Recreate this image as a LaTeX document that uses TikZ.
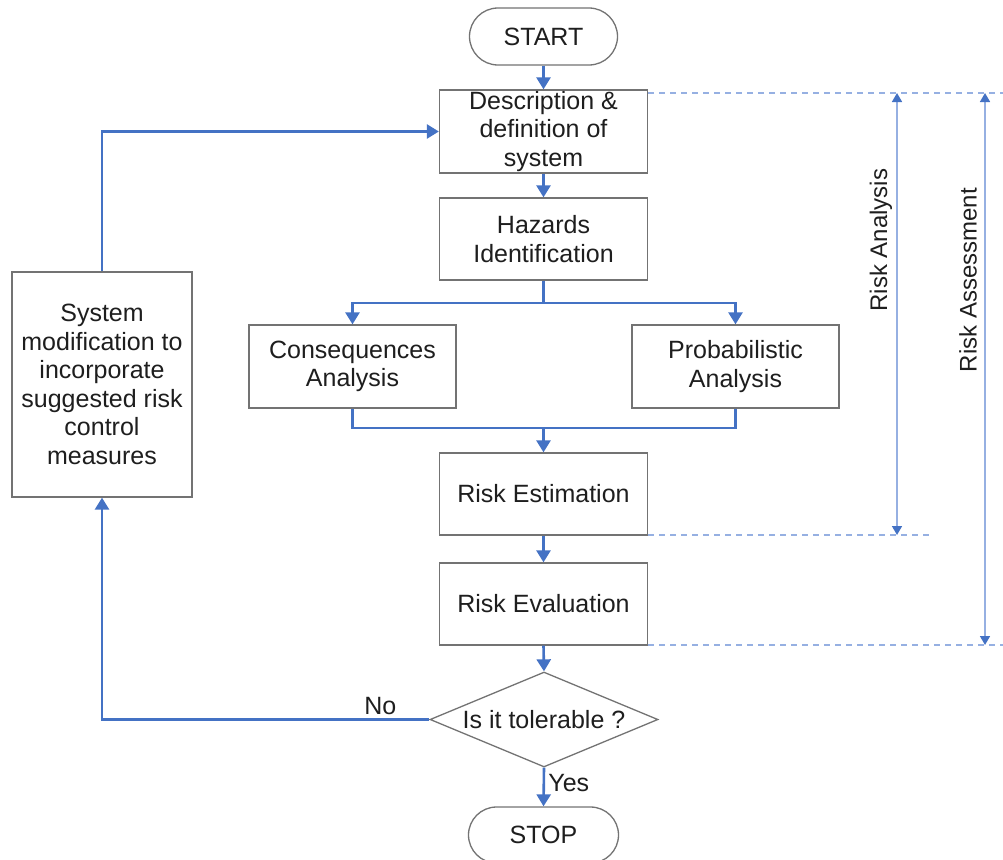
\documentclass[tikz,border=0pt]{standalone}
\usepackage{fontspec}
\setmainfont{Liberation Sans}
\usetikzlibrary{arrows.meta,shapes.geometric,shapes.misc}
\definecolor{flow}{RGB}{68,114,196}
\definecolor{dimline}{RGB}{150,176,226}
\definecolor{boxline}{RGB}{115,115,115}
\definecolor{txt}{RGB}{30,30,30}
\begin{document}
\begin{tikzpicture}[x=1pt,y=-1pt,
  box/.style={draw=boxline, line width=1.3pt, fill=white, text=txt, align=center,
    inner sep=0pt, font=\fontsize{25}{28.5}\selectfont},
  pill/.style={box, rounded rectangle},
  decision/.style={box, diamond, aspect=2.4},
  flowline/.style={draw=flow, line width=2.6pt},
  arr/.style={flowline, -{Triangle[width=14pt,length=12pt]}},
  dimdash/.style={draw=dimline, line width=2.2pt, dash pattern=on 6pt off 5pt},
  dimarr/.style={draw=dimline, line width=1.6pt,
    {Triangle[width=10pt,length=9pt,color=flow]}-{Triangle[width=10pt,length=9pt,color=flow]}},
  lbl/.style={text=txt, font=\fontsize{24}{28}\selectfont},
  edgelbl/.style={text=txt, font=\fontsize{25}{28}\selectfont},
]
\useasboundingbox (0,0) rectangle (1003,859);

% main nodes
\node[pill, minimum width=148pt, minimum height=57pt] (start) at (543.5,36.5) {START};
\node[box, minimum width=208pt, minimum height=83pt] (desc) at (543.5,131.5) {Description \&\\definition of\\system};
\node[box, minimum width=208pt, minimum height=82pt] (haz) at (543.5,239) {Hazards\\Identification};
\node[box, minimum width=207pt, minimum height=83pt] (cons) at (352.5,366.5) {Consequences\\Analysis};
\node[box, minimum width=207pt, minimum height=83pt] (prob) at (735.5,366.5) {Probabilistic\\Analysis};
\node[box, minimum width=208pt, minimum height=82pt] (est) at (543.5,494) {Risk Estimation};
\node[box, minimum width=208pt, minimum height=82pt] (eval) at (543.5,604) {Risk Evaluation};
\node[decision, minimum width=228pt, minimum height=95pt] (dec) at (544,719.5) {Is it tolerable ?};
\node[pill, minimum width=150pt, minimum height=56pt] (stop) at (543.5,835) {STOP};
\node[box, minimum width=180pt, minimum height=225pt] (mod) at (102,384.5)
  {System\\modification to\\incorporate\\suggested risk\\control\\measures};

% junction points
\coordinate (split) at (543.5,303);
\coordinate (merge) at (543.5,428);

% flow connectors
\draw[arr] (start.south) -- (desc.north);
\draw[arr] (desc.south) -- (haz.north);
\draw[flowline] (haz.south) -- (split);
\draw[arr] (split) -| (cons.north);
\draw[arr] (split) -| (prob.north);
\draw[flowline] (cons.south) |- (merge);
\draw[flowline] (prob.south) |- (merge);
\draw[arr] (merge) -- (est.north);
\draw[arr] (est.south) -- (eval.north);
\draw[arr] (eval.south) -- (dec.north);
\draw[arr] (dec.south) -- (stop.north)
  node[pos=0.4, right, edgelbl] {Yes};
\draw[arr] (dec.west) -| (mod.south)
  node[pos=0.075, above, edgelbl] {No};
\draw[arr] (mod.north) |- (desc.west);

% dimension guides
\coordinate (d1s) at (648,93);  \coordinate (d1e) at (1003,93);
\coordinate (d2s) at (648,535); \coordinate (d2e) at (930,535);
\coordinate (d3s) at (648,645); \coordinate (d3e) at (1003,645);
\draw[dimdash] (d1s) -- (d1e);
\draw[dimdash] (d2s) -- (d2e);
\draw[dimdash] (d3s) -- (d3e);
\coordinate (raT) at (897,93);  \coordinate (raB) at (897,535);
\coordinate (rsT) at (985,93);  \coordinate (rsB) at (985,645);
\draw[dimarr] (raT) -- (raB);
\draw[dimarr] (rsT) -- (rsB);
\node[lbl, rotate=90] (lblRA) at (881,240) {Risk Analysis};
\node[lbl, rotate=90] (lblRS) at (968,280) {Risk Assessment};
\end{tikzpicture}
\end{document}
